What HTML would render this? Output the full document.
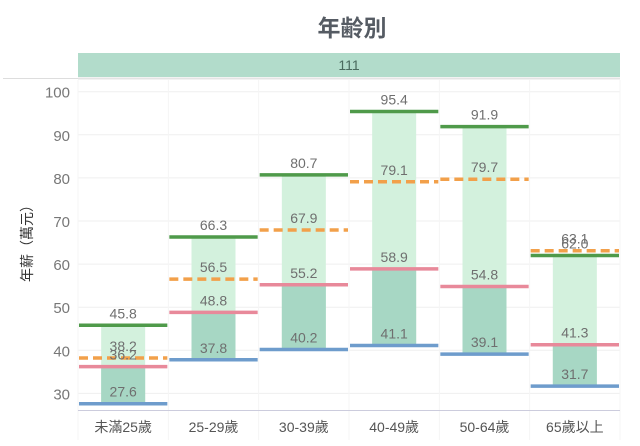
<!DOCTYPE html>
<html><head><meta charset="utf-8"><style>
html,body{margin:0;padding:0;background:#fff;width:640px;height:446px;overflow:hidden}
svg text{font-family:"Liberation Sans","Noto Sans CJK TC",sans-serif}
</style></head><body>
<svg width="640" height="446" viewBox="0 0 640 446">
<text x="352" y="36" text-anchor="middle" font-size="23" font-weight="bold" fill="#555b63">年齢別</text>
<rect x="78" y="53" width="542" height="24" fill="#b2dccb"/>
<text x="349" y="70" text-anchor="middle" font-size="14" fill="#4a6a5e">111</text>
<line x1="3" y1="78.5" x2="78" y2="78.5" stroke="#ddd" stroke-width="1"/>
<line x1="78" y1="78.5" x2="620" y2="78.5" stroke="#e4e4e4" stroke-width="2"/>
<g id="grid"></g><g id="marks"></g><g id="labels"></g>
<line x1="78" y1="410.5" x2="620" y2="410.5" stroke="#ccd" stroke-width="1"/>
<text transform="translate(32,240) rotate(-90)" text-anchor="middle" font-size="14" fill="#333">年薪（萬元）</text>
</svg>
<script>
const categories=["未滿25歲","25-29歲","30-39歲","40-49歲","50-64歲","65歲以上"];
const maxVals=[45.8,66.3,80.7,95.4,91.9,62.0];
const meanVals=[38.2,56.5,67.9,79.1,79.7,63.1];
const medianVals=[36.2,48.8,55.2,58.9,54.8,41.3];
const minVals=[27.6,37.8,40.2,41.1,39.1,31.7];
const yTicks=[30,40,50,60,70,80,90,100];

const NS="http://www.w3.org/2000/svg";
const left=78,right=620,colW=(right-left)/categories.length;
function y(v){return 91.7+(100-v)*4.31;}
function colX(i){return left+i*colW;}
function mk(parent,tag,attrs){const e=document.createElementNS(NS,tag);for(const k in attrs)e.setAttribute(k,attrs[k]);document.getElementById(parent).appendChild(e);return e;}

yTicks.forEach(t=>{
  const g=mk('grid','line',{x1:left,x2:right,y1:y(t),y2:y(t),stroke:'#efefef','stroke-width':1});
  
  
  const tx=mk('labels','text',{x:70,y:y(t)+6,'text-anchor':'end','font-size':15,fill:'#777'});
  tx.textContent=t;
  
  
});
for(let i=0;i<=categories.length;i++){
  const s=mk('grid','line',{x1:colX(i),x2:colX(i),y1:80,y2:440,stroke:'#f5f5f5','stroke-width':1});
  
  
}
function label(i,v,dy){
  const t=mk('labels','text',{x:colX(i)+colW/2,y:y(v)-(dy||7),'text-anchor':'middle','font-size':14,fill:'#6f6f6f'});
  t.textContent=v.toFixed(1);
  
  
}
categories.forEach((c,i)=>{
  const x0=colX(i),cx=x0+colW/2;
  const light=mk('marks','rect',{x:cx-22,width:44,y:y(maxVals[i]),height:y(minVals[i])-y(maxVals[i]),fill:'#d3f1dd'});
  
  
  const dark=mk('marks','rect',{x:cx-22,width:44,y:y(medianVals[i]),height:y(minVals[i])-y(medianVals[i]),fill:'#a7d7c4'});
  
  
  const lines=[[maxVals,'#4f9a4a',null,'max-line'],[medianVals,'#e8899a',null,'median-line'],[minVals,'#6e9ccc',null,'min-line'],[meanVals,'#f2a04a','9 5','mean-line']];
  lines.forEach(([arr,col,dash,name])=>{
    const a={x1:x0+1,x2:x0+colW-1,y1:y(arr[i]),y2:y(arr[i]),stroke:col,'stroke-width':3.5};
    if(dash)a['stroke-dasharray']=dash;
    const l=mk('marks','line',a);
    
    
  });
  label(i,maxVals[i]);label(i,meanVals[i]);label(i,medianVals[i]);label(i,minVals[i]);
  const xl=mk('labels','text',{x:cx,y:432,'text-anchor':'middle','font-size':14,fill:'#555'});
  xl.textContent=c;
  
  
});
</script>
</body></html>
